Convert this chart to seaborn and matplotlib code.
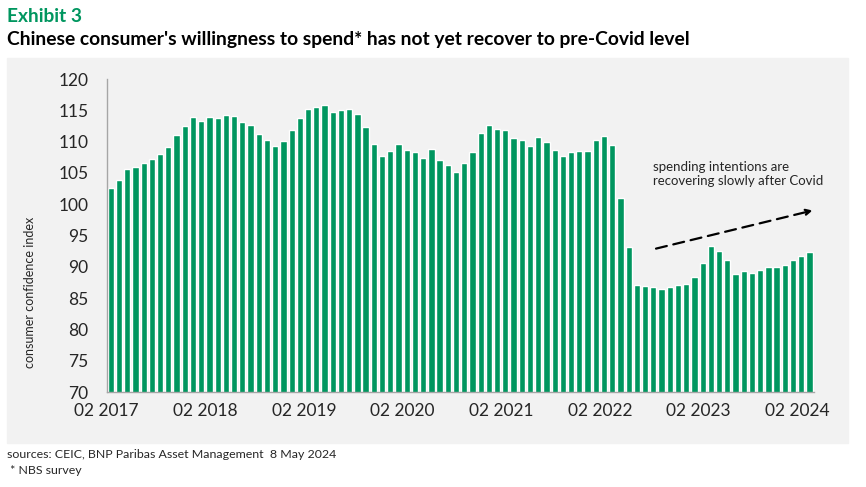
import pandas as pd
import numpy as np
import matplotlib.pyplot as plt
import seaborn as sns
from matplotlib.patches import Rectangle

# consumer willingness to spend index, monthly from 02 2017
vals_2017 = [102.6, 103.9, 105.6, 105.9, 106.6, 107.2, 108.0, 109.1, 111.0, 112.5, 113.9]
vals_2018 = [113.3, 113.9, 113.8, 114.2, 114.1, 113.1, 112.6, 111.2, 110.3, 109.3, 110.1, 111.9]
vals_2019 = [113.8, 115.2, 115.5, 115.8, 114.7, 115.0, 115.2, 114.4, 112.3, 109.6, 107.7, 108.5]
vals_2020 = [109.6, 108.7, 108.3, 107.4, 108.8, 107.1, 106.3, 105.1, 106.6, 108.3, 111.4, 112.6]
vals_2021 = [112.0, 111.9, 110.6, 110.3, 109.3, 110.7, 109.9, 108.7, 107.7, 108.3, 108.5, 108.5]
vals_2022 = [110.3, 110.9, 109.5, 101.0, 93.2, 87.1, 86.9, 86.8, 86.5, 86.8, 87.1, 87.3]
vals_2023 = [88.4, 90.6, 93.3, 92.5, 91.1, 88.8, 89.3, 89.0, 89.5, 90.0, 90.0, 90.3]
vals_2024 = [91.1, 91.7, 92.4]

values = vals_2017 + vals_2018 + vals_2019 + vals_2020 + vals_2021 + vals_2022 + vals_2023 + vals_2024
months = pd.date_range("2017-02-01", periods=len(values), freq="MS")
df = pd.DataFrame({"month": months.strftime("%m %Y"), "index": values})

tick_labels = ["02 2017", "02 2018", "02 2019", "02 2020", "02 2021", "02 2022", "02 2023", "02 2024"]
y_ticks = [70, 75, 80, 85, 90, 95, 100, 105, 110, 115, 120]

green = "#00965f"
panel = "#f2f2f2"
axis_grey = "#a6a6a6"

sns.set_style("white")
plt.rcParams["font.family"] = ["Lato", "DejaVu Sans"]

fig = plt.figure(figsize=(8.66, 4.87), dpi=100)
fig.patches.append(Rectangle((7 / 866, 1 - 443 / 487), 841 / 866, 385 / 487,
                             transform=fig.transFigure, color=panel, zorder=-5))
ax = fig.add_axes([106.7 / 866, 95 / 487, 706.9 / 866, 313 / 487])
ax.set_facecolor(panel)

sns.barplot(data=df, x="month", y="index", color=green, saturation=1, width=0.76, ax=ax)

ax.set_xlim(-0.5, len(values) - 0.5)
ax.set_ylim(70, 120)
ax.set_xticks([-0.5 + 12 * i for i in range(len(tick_labels))])
ax.set_xticklabels(tick_labels, fontsize=12.5)
ax.set_yticks(y_ticks)
ax.set_yticklabels([str(t) for t in y_ticks], fontsize=12.5)
ax.tick_params(axis="both", length=5, color=axis_grey, direction="out")
ax.tick_params(axis="x", pad=3)
ax.tick_params(axis="y", pad=8)
ax.set_xlabel("")
ax.set_ylabel("")
for side in ["top", "right"]:
    ax.spines[side].set_visible(False)
for side in ["left", "bottom"]:
    ax.spines[side].set_color(axis_grey)
    ax.spines[side].set_linewidth(1)

fig.text(30 / 866, 1 - 292 / 487, "consumer confidence index", rotation=90,
         ha="center", va="center", fontsize=9)

# annotation
ax.annotate("", xy=(85.7, 99.1), xytext=(66.0, 92.8),
            arrowprops=dict(arrowstyle="-|>", color="black", lw=1.6,
                            linestyle=(0, (5, 3)), mutation_scale=9),
            annotation_clip=False)
ax.text(66.0, 106.9, "spending intentions are\nrecovering slowly after Covid",
        ha="left", va="top", fontsize=9.5, linespacing=1.15)

# titles and footer
fig.text(7 / 866, 1 - 16 / 487, "Exhibit 3", color=green, fontsize=13.8,
         fontweight="bold", va="center")
fig.text(7 / 866, 1 - 40 / 487,
         "Chinese consumer's willingness to spend* has not yet recover to pre-Covid level",
         color="black", fontsize=13.9, fontweight="bold", va="center")
fig.text(7 / 866, 1 - 455 / 487, "sources: CEIC, BNP Paribas Asset Management  8 May 2024",
         fontsize=8.9, va="center")
fig.text(7 / 866, 1 - 470 / 487, " * NBS survey", fontsize=8.9, va="center")

fig.savefig("out.png", dpi=100)
